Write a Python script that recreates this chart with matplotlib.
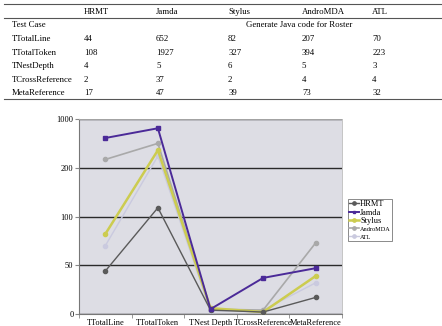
import numpy as np
import matplotlib
matplotlib.use('Agg')
from matplotlib import pyplot as plt
from matplotlib.lines import Line2D

plt.rcParams['font.family'] = ['Liberation Serif', 'DejaVu Serif']

# table contents
tools = ['HRMT', 'Jamda', 'Stylus', 'AndroMDA', 'ATL']
metrics = ['TTotalLine', 'TTotalToken', 'TNestDepth', 'TCrossReference', 'MetaReference']
table_vals = [
    ['44', '652', '82', '207', '70'],
    ['108', '1927', '327', '394', '223'],
    ['4', '5', '6', '5', '3'],
    ['2', '37', '2', '4', '4'],
    ['17', '47', '39', '73', '32'],
]

# chart data
categories = ['TTotalLine', 'TTotalToken', 'TNest Depth', 'TCrossReference', 'MetaReference']
hrmt = [44, 118, 4, 2, 17]
jamda = [688, 848, 5, 37, 47]
stylus = [82, 488, 6, 2, 39]
andromda = [336, 600, 5, 4, 73]
atl = [70, 392, 3, 4, 32]

yticks = [0, 50, 100, 200, 1000]

fig = plt.figure(figsize=(4.42, 3.26), dpi=100)

# ---- table on top ----
fs = 6.3
col_x = [0.027, 0.190, 0.353, 0.516, 0.683, 0.842]
def fy(py):
    return 1 - py / 326.0

for x, t in zip(col_x[1:], tools):
    fig.text(x, fy(12), t, fontsize=fs, va='center')
fig.text(col_x[0], fy(25), 'Test Case', fontsize=fs, va='center')
fig.text(0.557, fy(25), 'Generate Java code for Roster', fontsize=fs, va='center')
row_y = [39, 53, 66, 80, 93]
for ry, name, vals in zip(row_y, metrics, table_vals):
    fig.text(col_x[0], fy(ry), name, fontsize=fs, va='center')
    for x, v in zip(col_x[1:], vals):
        fig.text(x, fy(ry), v, fontsize=fs, va='center')

for py in [4, 18, 99]:
    fig.add_artist(Line2D([0.01, 1.0], [fy(py), fy(py)], color='#555555', lw=0.8))

# ---- chart ----
ax = fig.add_axes([79 / 442, 1 - 314 / 326, (342 - 79) / 442, (314 - 119) / 326])

def fwd(v):
    return np.interp(v, yticks, np.arange(len(yticks)))

def inv(p):
    return np.interp(p, np.arange(len(yticks)), yticks)

ax.set_yscale('function', functions=(fwd, inv))
ax.set_facecolor('#dddde4')

x = np.arange(len(categories))
ax.plot(x, hrmt, color='#5a5a5a', lw=1.0, marker='o', ms=3, label='HRMT', zorder=5)
ax.plot(x, jamda, color='#4b2a98', lw=1.4, marker='s', ms=2.5, label='Jamda', zorder=6)
ax.plot(x, stylus, color='#cccc50', lw=1.8, marker='o', ms=3, label='Stylus', zorder=4)
ax.plot(x, andromda, color='#a9a9a9', lw=1.2, marker='o', ms=3, label='AndroMDA', zorder=3)
ax.plot(x, atl, color='#cacadf', lw=1.0, marker='o', ms=3, label='ATL', zorder=2)

ax.set_ylim(0, 1000)
ax.set_xlim(-0.5, len(categories) - 0.5)
ax.set_yticks(yticks)
ax.set_yticklabels([str(t) for t in yticks], fontsize=6)
ax.yaxis.grid(True, color='#2a2a2a', lw=1.0)
ax.set_axisbelow(True)
ax.set_xticks(x)
ax.set_xticklabels(categories, fontsize=6.0)
ax.set_xticks(np.arange(-0.5, len(categories)), minor=True)
ax.tick_params(axis='x', which='major', length=0, pad=3.5)
ax.tick_params(axis='x', which='minor', length=3, color='#888888')
ax.tick_params(axis='y', length=3, pad=1, color='#888888')
for s in ['top', 'right']:
    ax.spines[s].set_color('#bbbbbb')
    ax.spines[s].set_linewidth(0.6)
for s in ['left', 'bottom']:
    ax.spines[s].set_color('#777777')
    ax.spines[s].set_linewidth(0.8)

leg = ax.legend(loc='upper left', bbox_to_anchor=(348 / 442, 1 - 199 / 326),
                bbox_transform=fig.transFigure, fontsize=6, frameon=True,
                fancybox=False, edgecolor='#555555', handlelength=1.2,
                handletextpad=0.1, borderpad=0.15, labelspacing=0.05,
                borderaxespad=0, markerscale=0.8)
leg.get_frame().set_linewidth(0.6)
for t in leg.get_texts()[3:]:
    t.set_fontsize(4.5)

fig.savefig('out.png', dpi=100)
